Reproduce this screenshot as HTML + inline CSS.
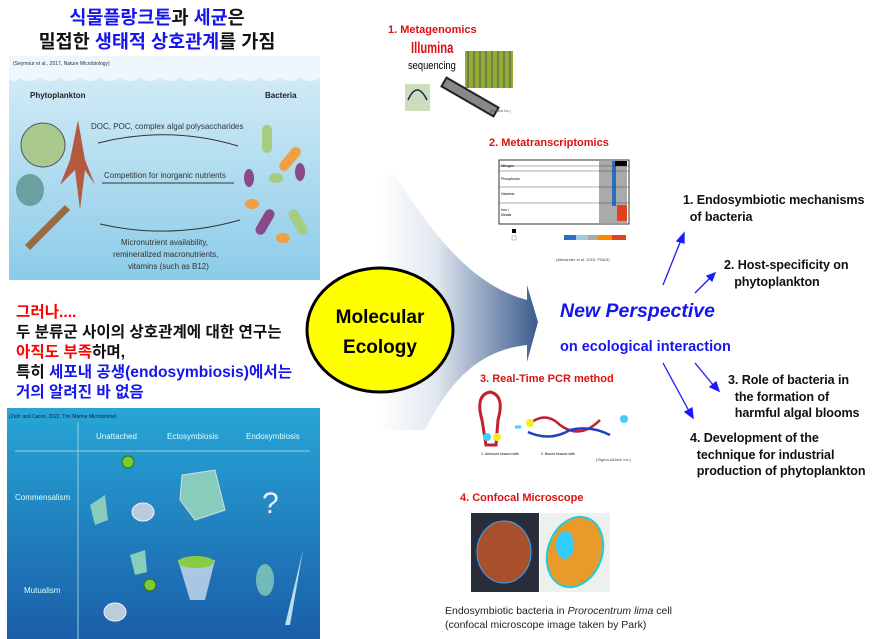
<!DOCTYPE html>
<html><head><meta charset="utf-8"><style>
body{margin:0;width:877px;height:639px;overflow:hidden;background:#fff;position:relative;font-family:"Liberation Sans","Noto Sans CJK KR",sans-serif}
.a{position:absolute;white-space:nowrap}
.k{font-family:"Liberation Sans","Noto Sans CJK KR",sans-serif;font-weight:bold}
.r{color:#d11;font-weight:bold;font-size:11px}
.b{font-weight:bold;font-size:12.6px;color:#111;letter-spacing:-0.1px}
</style></head><body>
<svg class="a" style="left:0;top:0" width="877" height="639">
<defs>
<linearGradient id="sky" x1="0" y1="0" x2="0" y2="1"><stop offset="0" stop-color="#d8eef8"/><stop offset="1" stop-color="#8ccbe8"/></linearGradient>
<linearGradient id="sea" x1="0" y1="0" x2="0" y2="1"><stop offset="0" stop-color="#27a6d6"/><stop offset="1" stop-color="#1a5ea8"/></linearGradient>
<linearGradient id="fan" x1="0" y1="0" x2="1" y2="0"><stop offset="0" stop-color="#fff"/><stop offset="0.35" stop-color="#e2e8f0"/><stop offset="1" stop-color="#3b5b8c"/></linearGradient>
</defs>
<path d="M395,175 C430,230 470,285 527,300 L527,285 L538,322 L527,362 L527,345 C480,350 450,380 425,430 L380,430 L380,175 Z" fill="url(#fan)"/>
<rect x="9" y="56" width="311" height="224" fill="url(#sky)"/>
<path d="M9,56 H320 V78 Q310,84 300,78 Q290,84 280,78 Q270,84 260,78 Q250,84 240,78 Q230,84 220,78 Q210,84 200,78 Q190,84 180,78 Q170,84 160,78 Q150,84 140,78 Q130,84 120,78 Q110,84 100,78 Q90,84 80,78 Q70,84 60,78 Q50,84 40,78 Q30,84 20,78 Q14,84 9,78Z" fill="#eef7fc"/>
<text x="13" y="65" font-size="5" fill="#333">(Seymour et al., 2017, Nature Microbiology)</text>
<text x="30" y="98" font-size="8" font-weight="bold" fill="#222">Phytoplankton</text>
<text x="265" y="98" font-size="8" font-weight="bold" fill="#222">Bacteria</text>
<text x="91" y="129" font-size="8" fill="#333">DOC, POC, complex algal polysaccharides</text>
<path d="M98,143 Q170,125 238,146" stroke="#333" fill="none"/>
<text x="104" y="178" font-size="8" fill="#333">Competition for inorganic nutrients</text>
<line x1="102" y1="183" x2="234" y2="183" stroke="#333"/>
<text x="121" y="245" font-size="8" fill="#333">Micronutrient availability,</text>
<text x="113" y="257" font-size="8" fill="#333">remineralized macronutrients,</text>
<text x="128" y="269" font-size="8" fill="#333">vitamins (such as B12)</text>
<path d="M100,224 Q170,240 240,220" stroke="#333" fill="none"/>
<circle cx="43" cy="145" r="22" fill="#a9c98e" stroke="#556"/>
<path d="M78,120 L70,160 L60,185 L75,170 L80,210 L85,170 L95,185 L85,160Z" fill="#b35a40"/>
<ellipse cx="30" cy="190" rx="14" ry="16" fill="#6aa0a0"/>
<path d="M25,245 L65,205 L70,210 L30,250Z" fill="#9a6b40"/>
<rect x="262" y="125" width="10" height="28" rx="5" fill="#a5cc80"/>
<rect x="285" y="145" width="10" height="28" rx="5" fill="#f0a040" transform="rotate(40 290 159)"/>
<ellipse cx="249" cy="178" rx="5" ry="9" fill="#8a4a8a"/>
<ellipse cx="276" cy="178" rx="7" ry="5" fill="#a5cc80"/>
<ellipse cx="300" cy="172" rx="5" ry="9" fill="#8a4a8a"/>
<ellipse cx="252" cy="204" rx="7" ry="5" fill="#f0a040"/>
<rect x="260" y="208" width="10" height="28" rx="5" fill="#8a4a8a" transform="rotate(30 265 222)"/>
<rect x="293" y="208" width="10" height="28" rx="5" fill="#a5cc80" transform="rotate(-30 298 222)"/>
<ellipse cx="283" cy="238" rx="7" ry="5" fill="#f0a040"/>
<rect x="7" y="408" width="313" height="231" fill="url(#sea)"/>
<text x="9" y="418" font-size="5" fill="#123">(Zehr and Caron, 2022, The Marine Microbiome)</text>
<line x1="78" y1="422" x2="78" y2="639" stroke="#9cd" stroke-width="1"/>
<line x1="15" y1="451" x2="310" y2="451" stroke="#9cd" stroke-width="1"/>
<text x="96" y="439" font-size="8" fill="#dff">Unattached</text>
<text x="167" y="439" font-size="8" fill="#dff">Ectosymbiosis</text>
<text x="246" y="439" font-size="8" fill="#dff">Endosymbiosis</text>
<text x="15" y="500" font-size="8" fill="#dff">Commensalism</text>
<text x="24" y="593" font-size="8" fill="#dff">Mutualism</text>
<text x="262" y="513" font-size="30" fill="#eef">?</text>
<circle cx="128" cy="462" r="6" fill="#7c3" stroke="#360"/>
<path d="M90,505 L105,495 L108,520 L95,525Z" fill="#8cb"/>
<ellipse cx="143" cy="512" rx="11" ry="9" fill="#bcd" stroke="#eef"/>
<path d="M182,475 L215,470 L225,510 L195,520 L180,500Z" fill="#8cb" stroke="#cde"/>
<path d="M178,560 L215,560 L205,600 L190,600Z" fill="#cde" opacity="0.8"/>
<ellipse cx="196" cy="562" rx="18" ry="6" fill="#8c4"/>
<ellipse cx="265" cy="580" rx="9" ry="16" fill="#8cb" opacity="0.8"/>
<path d="M303,550 L285,625 L290,625Z" fill="#bde"/>
<path d="M130,555 L145,550 L147,572 L135,575Z" fill="#8cb"/>
<ellipse cx="115" cy="612" rx="11" ry="9" fill="#bcd" stroke="#eef"/>
<circle cx="150" cy="585" r="6" fill="#7c3" stroke="#360"/>
<ellipse cx="380" cy="330" rx="73" ry="62" fill="#ffff00" stroke="#000" stroke-width="3"/>
<text x="380" y="323" text-anchor="middle" font-size="19" font-weight="bold">Molecular</text>
<text x="380" y="353" text-anchor="middle" font-size="19" font-weight="bold">Ecology</text>
<rect x="465" y="51" width="48" height="37" fill="#9a3"/>
<g stroke="#575" stroke-width="1.5"><line x1="468" y1="51" x2="468" y2="88"/><line x1="474" y1="51" x2="474" y2="88"/><line x1="480" y1="51" x2="480" y2="88"/><line x1="486" y1="51" x2="486" y2="88"/><line x1="492" y1="51" x2="492" y2="88"/><line x1="498" y1="51" x2="498" y2="88"/><line x1="504" y1="51" x2="504" y2="88"/><line x1="510" y1="51" x2="510" y2="88"/></g>
<rect x="440" y="92" width="60" height="10" fill="#888" stroke="#222" stroke-width="2" transform="rotate(30 470 97)"/>
<rect x="405" y="84" width="25" height="27" fill="#cdb"/>
<path d="M408,100 Q417,80 427,100" stroke="#225" fill="none" stroke-width="1.5"/>
<text x="490" y="112" font-size="3.5" fill="#555">(Illumina Inc.)</text>
<rect x="499" y="160" width="130" height="64" fill="#fff" stroke="#333"/>
<rect x="599" y="161" width="28" height="62" fill="#aaa"/>
<rect x="612" y="161" width="4" height="45" fill="#2a6fc0"/>
<rect x="615" y="161" width="12" height="5" fill="#000"/>
<rect x="617" y="205" width="10" height="16" fill="#e04020"/>
<g stroke="#333" stroke-width="0.4"><line x1="499" y1="166" x2="629" y2="166"/><line x1="499" y1="171" x2="629" y2="171"/><line x1="499" y1="187" x2="629" y2="187"/><line x1="499" y1="203" x2="629" y2="203"/></g>
<text x="501" y="167" font-size="3.5">Nitrogen</text><text x="501" y="180" font-size="3.5">Phosphorus</text><text x="501" y="195" font-size="3.5">Vitamins</text><text x="501" y="211" font-size="3.5">Iron /</text><text x="501" y="216" font-size="3.5">Metals</text>
<rect x="512" y="229" width="4" height="4" fill="#000"/><rect x="512" y="236" width="4" height="4" fill="#fff" stroke="#888" stroke-width="0.5"/>
<rect x="564" y="235" width="62" height="5" fill="#2a6fc0"/><rect x="576" y="235" width="12" height="5" fill="#9cd"/><rect x="588" y="235" width="10" height="5" fill="#aaa"/><rect x="598" y="235" width="14" height="5" fill="#f80"/><rect x="612" y="235" width="14" height="5" fill="#e04020"/>
<text x="556" y="261" font-size="4" fill="#444">(Alexander et al. 2015, PNAS)</text>
<path d="M482,420 Q475,395 490,392 Q505,395 498,420 L496,445 L486,445Z" fill="none" stroke="#c02030" stroke-width="3"/>
<circle cx="487" cy="437" r="4" fill="#4cf"/><circle cx="497" cy="437" r="4" fill="#ee2"/>
<path d="M515,427 l6,0" stroke="#4cf" stroke-width="3"/>
<path d="M528,425 Q545,410 560,425 Q580,440 600,420" stroke="#c02030" fill="none" stroke-width="2.5"/>
<path d="M528,432 Q550,442 570,430 Q590,425 610,435" stroke="#2040c0" fill="none" stroke-width="2.5"/>
<circle cx="530" cy="423" r="4" fill="#ee2"/><circle cx="624" cy="419" r="4" fill="#4cf"/>
<text x="481" y="455" font-size="3.5">1. Unbound beacon with</text><text x="541" y="455" font-size="3.5">2. Bound beacon with</text>
<text x="596" y="461" font-size="4" fill="#444">(Sigma-Aldrich Inc.)</text>
<rect x="471" y="513" width="68" height="79" fill="#2a2e3a"/>
<ellipse cx="504" cy="552" rx="27" ry="31" fill="#a8502c" stroke="#3af"/>
<rect x="540" y="513" width="70" height="79" fill="#eef0ee"/>
<ellipse cx="575" cy="552" rx="27" ry="36" fill="#e89a2a" stroke="#2cd" stroke-width="2" transform="rotate(20 575 552)"/>
<ellipse cx="565" cy="545" rx="9" ry="14" fill="#3cf"/>
<g stroke="#1a1aff" stroke-width="1.3" fill="#1a1aff">
<line x1="663" y1="285" x2="681" y2="240"/><path d="M684,233 L677,241 L684,243Z"/>
<line x1="695" y1="293" x2="711" y2="277"/><path d="M715,273 L707,276 L712,281Z"/>
<line x1="663" y1="363" x2="689" y2="411"/><path d="M693,418 L685,412 L692,408Z"/>
<line x1="695" y1="363" x2="714" y2="386"/><path d="M719,391 L710,387 L716,382Z"/>
</g>
</svg>
<div class="a k" style="left:0;width:314px;text-align:center;top:6px;font-size:18.5px;line-height:24px;color:#111"><span style="color:#1515ee">식물플랑크톤</span>과 <span style="color:#1515ee">세균</span>은<br>밀접한 <span style="color:#1515ee">생태적 상호관계</span>를 가짐</div>
<div class="a k" style="left:16px;top:303px;font-size:15.6px;line-height:20px;color:#111"><span style="color:#f00">그러나....</span><br>두 분류군 사이의 상호관계에 대한 연구는<br><span style="color:#f00">아직도 부족</span>하며,<br>특히 <span style="color:#1515ee">세포내 공생(endosymbiosis)에서는<br>거의 알려진 바 없음</span></div>
<div class="a r" style="left:388px;top:24px">1. Metagenomics</div>
<div class="a" style="left:411px;top:40px;color:#d11;font-size:16px;font-weight:bold;transform:scaleX(0.7);transform-origin:left">Illumina</div>
<div class="a" style="left:408px;top:60px;font-size:11px;transform:scaleX(0.85);transform-origin:left">sequencing</div>
<div class="a r" style="left:489px;top:137px">2. Metatranscriptomics</div>
<div class="a r" style="left:480px;top:373px">3. Real-Time PCR method</div>
<div class="a r" style="left:460px;top:492px">4. Confocal Microscope</div>
<div class="a" style="left:445px;top:604px;font-size:10.5px;line-height:14px;color:#222">Endosymbiotic bacteria in <i>Prorocentrum lima</i> cell<br>(confocal microscope image taken by Park)</div>
<div class="a" style="left:560px;top:300px;font-size:19.5px;font-weight:bold;font-style:italic;color:#1515ee">New Perspective</div>
<div class="a" style="left:560px;top:339px;font-size:14.5px;font-weight:bold;color:#1515ee">on ecological interaction</div>
<div class="a b" style="left:683px;top:192px;line-height:17px">1. Endosymbiotic mechanisms<br>&nbsp;&nbsp;of bacteria</div>
<div class="a b" style="left:724px;top:257px;line-height:17px">2. Host-specificity on<br>&nbsp;&nbsp;&nbsp;phytoplankton</div>
<div class="a b" style="left:728px;top:372px;line-height:16.5px">3. Role of bacteria in<br>&nbsp;&nbsp;the formation of<br>&nbsp;&nbsp;harmful algal blooms</div>
<div class="a b" style="left:690px;top:430px;line-height:16.5px">4. Development of the<br>&nbsp;&nbsp;technique for industrial<br>&nbsp;&nbsp;production of phytoplankton</div>
</body></html>
